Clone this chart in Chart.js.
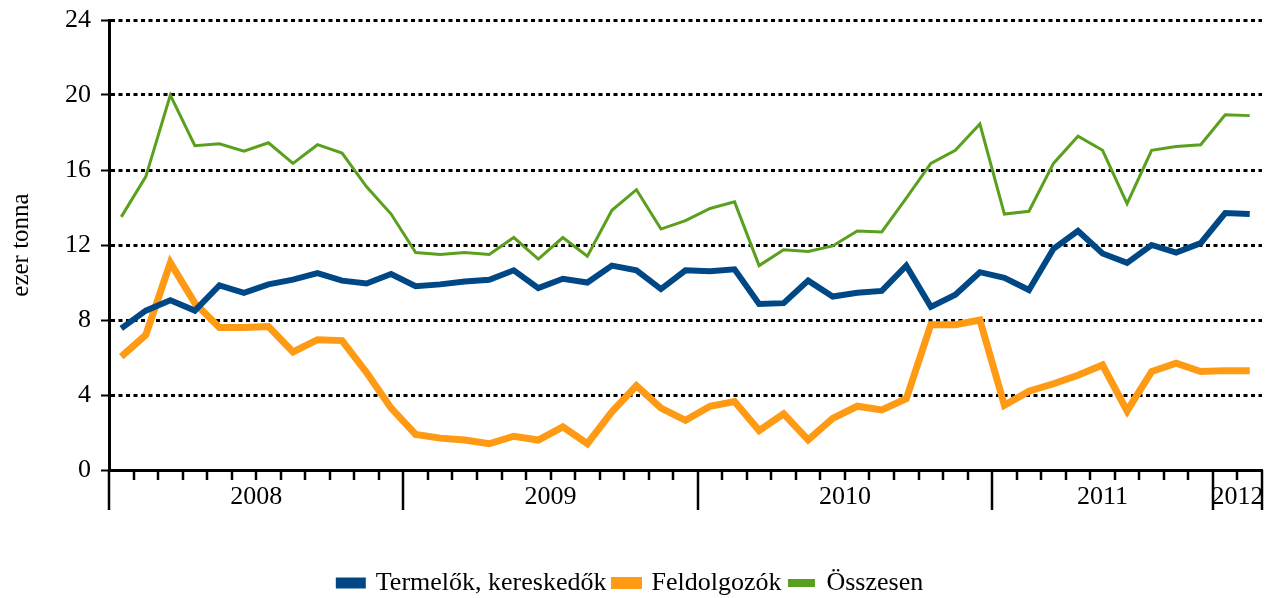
<!DOCTYPE html>
<html>
<head>
<meta charset="utf-8">
<script src="https://cdn.jsdelivr.net/npm/chart.js@4.4.0/dist/chart.umd.min.js"></script>
<style>
  html, body { margin: 0; padding: 0; background: #fff; overflow: hidden; }
  #wrap { width: 1267px; height: 606px; }
</style>
</head>
<body>
<div id="wrap"><canvas id="grafikon"></canvas></div>
<script>
const evek = ['2008', '2009', '2010', '2011', '2012']
const honapokSzama = [12, 12, 12, 9, 2]
const yTicks = [0, 4, 8, 12, 16, 20, 24]

const termelok = [7.55, 8.5, 9.05, 8.5, 9.85, 9.45, 9.9, 10.15, 10.5, 10.1,
  9.95, 10.45, 9.8, 9.9, 10.05, 10.15, 10.65, 9.7, 10.2, 10.0,
  10.9, 10.65, 9.65, 10.65, 10.6, 10.7, 8.85, 8.9, 10.1, 9.25,
  9.45, 9.55, 10.9, 8.7, 9.35, 10.55, 10.25, 9.6, 11.8, 12.75,
  11.55, 11.05, 12.0, 11.6, 12.1, 13.7, 13.65]
const feldolgozok = [6.05, 7.2, 11.05, 8.9, 7.6, 7.6, 7.65, 6.3, 6.95, 6.9,
  5.2, 3.3, 1.9, 1.7, 1.6, 1.4, 1.8, 1.6, 2.3, 1.4,
  3.1, 4.5, 3.3, 2.65, 3.4, 3.65, 2.1, 3.0, 1.6, 2.75,
  3.4, 3.2, 3.8, 7.75, 7.75, 8.0, 3.45, 4.2, 4.6, 5.05,
  5.6, 3.15, 5.25, 5.7, 5.25, 5.3, 5.3]
const osszesen = [13.5, 15.65, 20.0, 17.3, 17.4, 17.0, 17.45, 16.35, 17.35, 16.9,
  15.1, 13.65, 11.6, 11.5, 11.6, 11.5, 12.4, 11.25, 12.4, 11.4,
  13.85, 14.95, 12.85, 13.3, 13.95, 14.3, 10.9, 11.75, 11.65, 11.95,
  12.75, 12.7, 14.5, 16.35, 17.05, 18.45, 13.65, 13.8, 16.35, 17.8,
  17.05, 14.2, 17.05, 17.25, 17.35, 18.95, 18.9]

// egy kategoria minden honapra
const honapok = []
evek.forEach(function(ev, i){
  for (let m = 1; m <= honapokSzama[i]; m++) honapok.push(ev + '.' + m)
})

// ev hatarok (honap indexek)
const hatarok = [0]
honapokSzama.forEach(function(n){ hatarok.push(hatarok[hatarok.length - 1] + n) })

const betu = "'Liberation Serif', 'Times New Roman', serif"
Chart.defaults.font.family = betu
Chart.defaults.color = '#000'

// x tengely: honap osztasok, ev osztasok es ev feliratok
const tengely = {
  id: 'tengely',
  afterDraw(chart) {
    const ctx = chart.ctx
    const x = chart.scales.x
    const y0 = chart.chartArea.bottom
    const lepes = x.getPixelForValue(1) - x.getPixelForValue(0)
    ctx.save()
    ctx.strokeStyle = '#000'
    ctx.lineWidth = 2.5
    for (let i = 0; i <= honapok.length; i++) {
      const px = Math.round(x.getPixelForValue(i) - lepes / 2)
      const nagy = hatarok.includes(i)
      ctx.beginPath()
      ctx.moveTo(px, y0)
      ctx.lineTo(px, y0 + (nagy ? 40 : 10))
      ctx.stroke()
    }
    ctx.fillStyle = '#000'
    ctx.font = '26px ' + betu
    ctx.textAlign = 'center'
    ctx.textBaseline = 'middle'
    evek.forEach(function(ev, i){
      const a = x.getPixelForValue(hatarok[i]) - lepes / 2
      const b = x.getPixelForValue(hatarok[i + 1]) - lepes / 2
      ctx.fillText(ev, (a + b) / 2, y0 + 27)
    })
    ctx.restore()
  }
}

new Chart('grafikon', {
  type: 'line',
  data: {
    labels: honapok,
    datasets: [{
      label: 'Termelők, kereskedők',
      data: termelok,
      borderColor: '#004885',
      backgroundColor: '#004885',
      borderWidth: 6
    }, {
      label: 'Feldolgozók',
      data: feldolgozok,
      borderColor: '#FF9A14',
      backgroundColor: '#FF9A14',
      borderWidth: 7
    }, {
      label: 'Összesen',
      data: osszesen,
      borderColor: '#5AA01E',
      backgroundColor: '#5AA01E',
      borderWidth: 3
    }]
  },
  options: {
    responsive: true,
    maintainAspectRatio: false,
    animation: false,
    elements: {
      point: { radius: 0 },
      line: { tension: 0, borderJoinStyle: 'miter' }
    },
    layout: { padding: { top: 20, right: 5, left: 0, bottom: 0 } },
    plugins: {
      legend: {
        position: 'bottom',
        labels: { font: { size: 26 }, boxWidth: 24, boxHeight: 5, padding: 8 }
      },
      tooltip: { enabled: false }
    },
    scales: {
      x: {
        offset: true,
        grid: { display: false, drawTicks: false },
        border: { color: '#000', width: 3 },
        ticks: { display: false },
        afterFit: function(s){ s.height = 92 }
      },
      y: {
        min: 0,
        max: 24,
        afterBuildTicks: function(s){ s.ticks = yTicks.map(function(v){ return { value: v } }) },
        grid: {
          color: '#000',
          lineWidth: 3,
          tickBorderDash: [],
          tickLength: 8,
          tickWidth: 2
        },
        border: { color: '#000', width: 3, dash: [4, 3.5] },
        ticks: { font: { size: 26 }, padding: 10 },
        title: { display: true, text: 'ezer tonna', font: { size: 25 }, padding: { top: 6, bottom: 0 } },
        afterFit: function(s){
          s.width = 109
          s.paddingTop = 0
          s.paddingBottom = 0
        }
      }
    }
  },
  plugins: [tengely]
})
</script>
</body>
</html>
